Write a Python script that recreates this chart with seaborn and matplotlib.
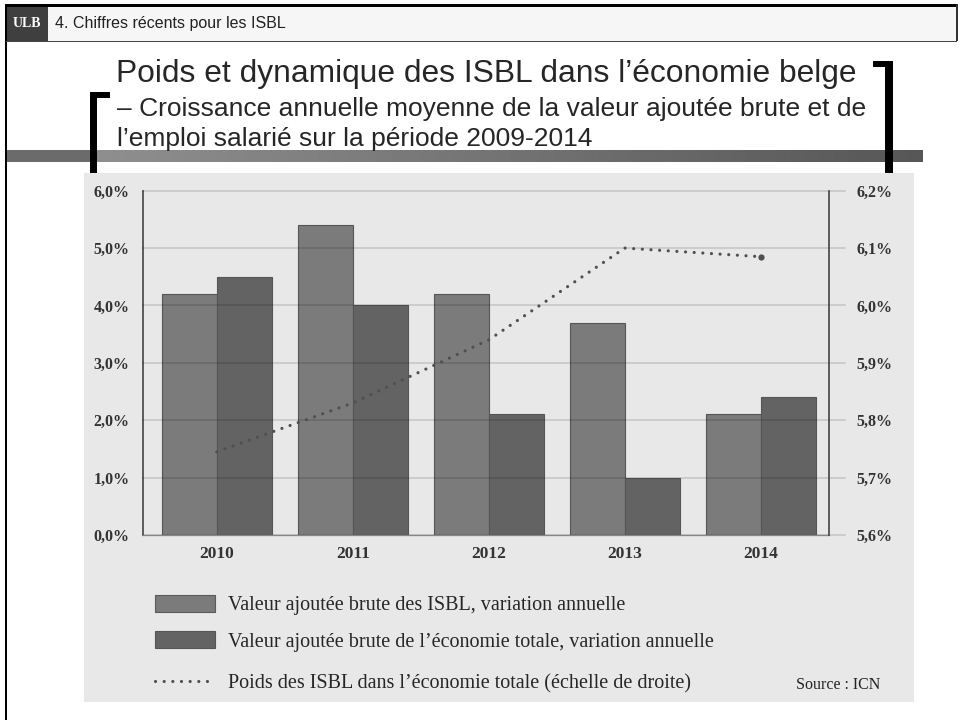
import matplotlib
matplotlib.use('Agg')
import matplotlib.pyplot as plt
import numpy as np
import pandas as pd
import seaborn as sns
from matplotlib.patches import Rectangle, Patch
from matplotlib.lines import Line2D

# data
years = ['2010', '2011', '2012', '2013', '2014']
va_isbl = [4.2, 5.4, 4.2, 3.7, 2.1]
va_total = [4.5, 4.0, 2.1, 1.0, 2.4]
poids_isbl = [5.745, 5.83, 5.94, 6.10, 6.085]

lab_isbl = 'Valeur ajoutée brute des ISBL, variation annuelle'
lab_total = 'Valeur ajoutée brute de l’économie totale, variation annuelle'
lab_poids = 'Poids des ISBL dans l’économie totale (échelle de droite)'

left_ticks = [0, 1, 2, 3, 4, 5, 6]
left_labels = ['0,0%', '1,0%', '2,0%', '3,0%', '4,0%', '5,0%', '6,0%']
right_ticks = [5.6, 5.7, 5.8, 5.9, 6.0, 6.1, 6.2]
right_labels = ['5,6%', '5,7%', '5,8%', '5,9%', '6,0%', '6,1%', '6,2%']

header = '4. Chiffres récents pour les ISBL'
title1 = 'Poids et dynamique des ISBL dans l’économie belge'
title2 = '– Croissance annuelle moyenne de la valeur ajoutée brute et de'
title3 = 'l’emploi salarié sur la période 2009-2014'
source = 'Source : ICN'

df = pd.DataFrame({'annee': years * 2,
                   'serie': [lab_isbl] * len(years) + [lab_total] * len(years),
                   'valeur': va_isbl + va_total})

sns.set_style('white')
plt.rcParams['font.family'] = ['Liberation Sans', 'DejaVu Sans']
serif = ['Liberation Serif', 'DejaVu Serif']

W, H = 960, 720
fig = plt.figure(figsize=(9.6, 7.2), dpi=100)
fig.patch.set_facecolor('white')


def fx(x):
    return x / W


def fy(y):
    return 1 - y / H


def box(x0, y0, x1, y1, **kw):
    fig.add_artist(Rectangle((fx(x0), fy(y1)), fx(x1) - fx(x0), fy(y0) - fy(y1),
                             transform=fig.transFigure, lw=0, **kw))


# slide frame and header
box(48, 7, 957, 41, facecolor='#f6f6f6', zorder=1)
box(6, 7, 48, 41, facecolor='#3f3f3f', zorder=1)
box(5, 4, 958, 7, facecolor='black', zorder=2)
box(5, 4, 7, 720, facecolor='black', zorder=2)
box(956, 4, 958, 41, facecolor='#333333', zorder=2)
box(6, 40.5, 957, 41.5, facecolor='#444444', zorder=2)
fig.text(fx(27), fy(23.5), 'ULB', color='white', family=serif, weight='bold',
         size=10, ha='center', va='center')
fig.text(fx(55), fy(23.5), header, color='#222222', size=11.5, va='center')

# title
fig.text(fx(116), fy(82), title1, size=22.9, va='baseline')
fig.text(fx(117), fy(116), title2, size=19.0, va='baseline')
fig.text(fx(117), fy(146), title3, size=19.0, va='baseline')

# grey band under title
bax = fig.add_axes([fx(6), fy(162), fx(923) - fx(6), 12 / H])
grad = np.concatenate([np.full(85, 0.42), np.linspace(0.56, 0.34, 830)])
bax.imshow(grad[None, :], cmap='gray', vmin=0, vmax=1, aspect='auto')
bax.axis('off')

# brackets
box(90, 92, 97, 173, facecolor='black', zorder=4)
box(90, 92, 110, 98, facecolor='black', zorder=4)
box(885, 61, 893, 173, facecolor='black', zorder=4)
box(873, 61, 893, 67, facecolor='black', zorder=4)

# chart panel
box(84, 173, 914, 702, facecolor='#e8e8e8', zorder=-1)

ax = fig.add_axes([fx(143.3), fy(535), (828.7 - 143.3) / W, (535 - 190.7) / H])
ax.patch.set_visible(False)
sns.barplot(data=df, x='annee', y='valeur', hue='serie',
            palette=['#7b7b7b', '#636363'], width=0.81, saturation=1,
            edgecolor='#555555', linewidth=0.8, ax=ax, legend=False)

ax2 = ax.twinx()
sns.lineplot(x=years, y=poids_isbl, ax=ax2, sort=False, color='#505050',
             lw=2.3, linestyle=(0, (0.01, 2.7)), dash_capstyle='round',
             marker='o', markevery=[len(years) - 1], markersize=4.5,
             markeredgewidth=0)

ax.set_xlim(-0.54, 4.5)
ax.set_ylim(0, 6)
ax2.set_ylim(5.6, 6.2)

for v in left_ticks:
    ax.axhline(v, xmin=0, xmax=(845 - 143.3) / (828.7 - 143.3), color='black',
               alpha=0.12, lw=1.4, zorder=3, clip_on=False)

ax.set_yticks(left_ticks, left_labels)
ax2.set_yticks(right_ticks, right_labels)
ax.set_xticks(np.arange(len(years)) + 0.5, minor=True)
ax.set_xlabel('')
ax.set_ylabel('')
ax2.set_ylabel('')

ax.tick_params(axis='y', length=0, pad=10)
ax2.tick_params(axis='y', length=0, pad=20)
ax.tick_params(axis='x', which='major', length=0, pad=8)
ax.tick_params(axis='x', which='minor', direction='in', length=9, width=1,
               color='#777777')
for lbl in ax.get_xticklabels() + ax.get_yticklabels() + ax2.get_yticklabels():
    lbl.set_fontfamily(serif)
    lbl.set_fontweight('bold')
    lbl.set_fontsize(11.5)
    lbl.set_color('#333333')
for lbl in ax.get_xticklabels():
    lbl.set_fontsize(12.5)

for s in ['top', 'right']:
    ax.spines[s].set_visible(False)
for s in ['top', 'left', 'bottom']:
    ax2.spines[s].set_visible(False)
ax.spines['left'].set_color('#444444')
ax.spines['left'].set_linewidth(1.2)
ax.spines['bottom'].set_color('#999999')
ax.spines['bottom'].set_linewidth(1)
ax2.spines['right'].set_color('#444444')
ax2.spines['right'].set_linewidth(1.2)

# legend
bar_handles = [Patch(facecolor='#7b7b7b', edgecolor='#5a5a5a', lw=0.8),
               Patch(facecolor='#636363', edgecolor='#555555', lw=0.8)]
fig.legend(handles=bar_handles, labels=[lab_isbl, lab_total], loc='upper left',
           bbox_to_anchor=(fx(155), fy(595)), frameon=False,
           prop={'family': serif, 'size': 14.5}, handlelength=3.0,
           handleheight=0.9, labelspacing=0.8, handletextpad=0.6,
           borderaxespad=0, borderpad=0)
dot_handle = Line2D([], [], color='#505050', lw=2.3, linestyle=(0, (0.01, 2.7)),
                    dash_capstyle='round')
fig.legend(handles=[dot_handle], labels=[lab_poids], loc='upper left',
           bbox_to_anchor=(fx(155), fy(674)), frameon=False,
           prop={'family': serif, 'size': 14.5}, handlelength=3.0,
           handletextpad=0.6, borderaxespad=0, borderpad=0)

fig.text(fx(880), fy(685), source, family=serif, size=11.5, ha='right',
         va='center', color='#222222')

fig.savefig('out.png', dpi=100)
